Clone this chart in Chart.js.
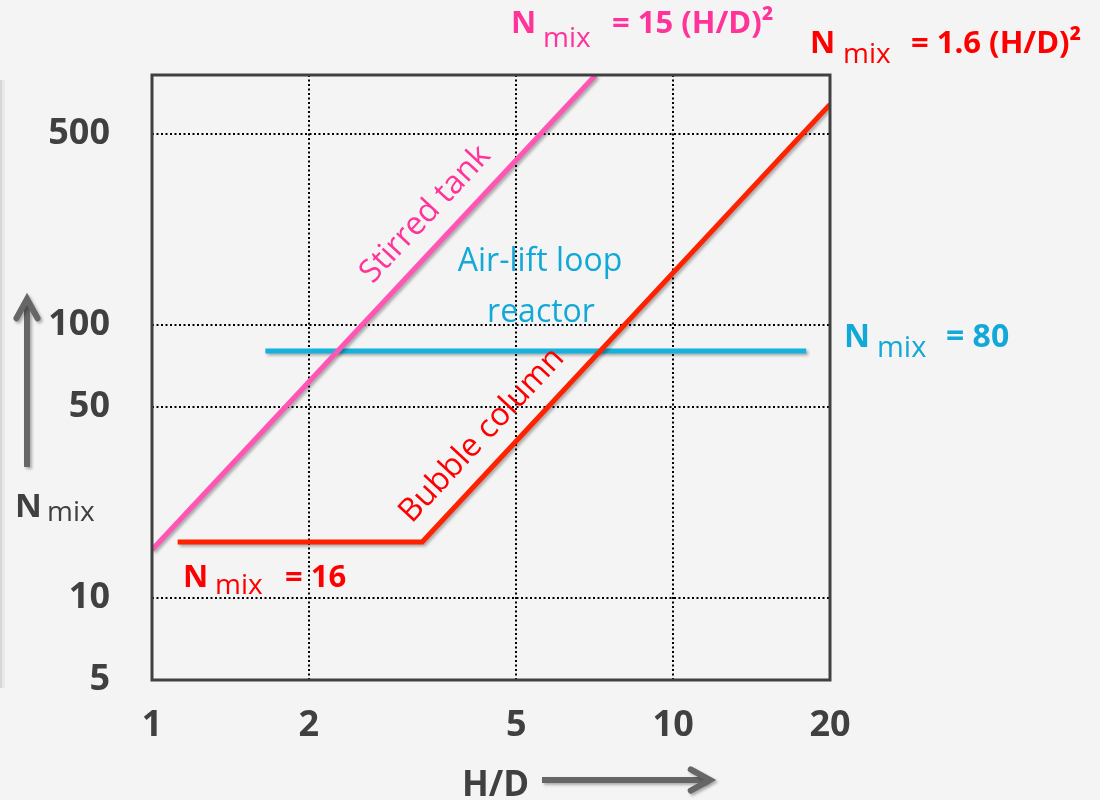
<!DOCTYPE html>
<html>
<head>
<meta charset="utf-8">
<title>Mixing number vs H/D</title>
<script src="https://cdn.jsdelivr.net/npm/chart.js@4.4.1/dist/chart.umd.min.js"></script>
<style>
  html, body { margin: 0; padding: 0; background: #f4f4f4; }
  #wrap { width: 1100px; height: 800px; }
</style>
</head>
<body>
<div id="wrap"><canvas id="mix-chart" width="1100" height="800"></canvas></div>
<script>
// axis ticks (log-log)
const hdTicks = [1, 2, 5, 10, 20];
const nmixTicks = [5, 10, 50, 100, 500];
const hdRange = [1, 20];
const nmixRange = [5, 820];

// reactor lines
const stirredHD = [1, 7.1];
const stirredN = [15, 820];
const bubbleHD = [1.12, 3.3, 20];
const bubbleN = [16, 16, 640];
const airliftHD = [1.65, 18];
const airliftN = [80, 80];

const PINK = '#ff55b4', PINK_TXT = '#ff3399';
const RED = '#ff2200', RED_TXT = '#ff0000';
const CYAN = '#14b2dc', CYAN_TXT = '#12a8d8';
const GREY = '#404040';
const FONT = '"Open Sans"';

const pts = (xs, ys) => xs.map((x, i) => ({ x, y: ys[i] }));

function nmixText(ctx, color, size, n, m, r, rest) {
  ctx.fillStyle = color;
  ctx.textAlign = 'left';
  ctx.textBaseline = 'alphabetic';
  ctx.font = `bold ${size}px ${FONT}`;
  ctx.fillText('N', n[0], n[1]);
  ctx.font = `${size - 3}px ${FONT}`;
  ctx.fillText('mix', m[0], m[1]);
  ctx.font = `bold ${size}px ${FONT}`;
  ctx.fillText(rest, r[0], r[1]);
}

// text that runs parallel to a segment of a drawn line
function labelAlong(ctx, meta, i, t, off, text, color) {
  const a = meta.data[i], b = meta.data[i + 1];
  const dx = b.x - a.x, dy = b.y - a.y, len = Math.hypot(dx, dy);
  const x = a.x + dx * t + (dy / len) * off;
  const y = a.y + dy * t - (dx / len) * off;
  ctx.save();
  ctx.translate(x, y);
  ctx.rotate(Math.atan2(dy, dx));
  ctx.fillStyle = color;
  ctx.font = `32px ${FONT}`;
  ctx.textAlign = 'left';
  ctx.textBaseline = 'alphabetic';
  ctx.fillText(text, 0, 0);
  ctx.restore();
}

function arrow(ctx, x1, y1, x2, y2) {
  const ang = Math.atan2(y2 - y1, x2 - x1), h = 22, w = 0.5;
  ctx.save();
  ctx.strokeStyle = '#666';
  ctx.lineWidth = 6;
  ctx.shadowColor = 'rgba(0,0,0,0.3)';
  ctx.shadowBlur = 3;
  ctx.shadowOffsetX = 2;
  ctx.shadowOffsetY = 2;
  ctx.beginPath();
  ctx.moveTo(x1, y1);
  ctx.lineTo(x2 - Math.cos(ang) * 3, y2 - Math.sin(ang) * 3);
  ctx.stroke();
  ctx.lineCap = 'round';
  ctx.lineJoin = 'miter';
  ctx.beginPath();
  ctx.moveTo(x2 - h * Math.cos(ang - w), y2 - h * Math.sin(ang - w));
  ctx.lineTo(x2, y2);
  ctx.lineTo(x2 - h * Math.cos(ang + w), y2 - h * Math.sin(ang + w));
  ctx.stroke();
  ctx.restore();
}

const decor = {
  id: 'decor',
  beforeDraw(chart) {
    const ctx = chart.ctx;
    ctx.save();
    ctx.fillStyle = '#f4f4f4';
    ctx.fillRect(0, 0, chart.width, chart.height);
    // faint slide edge on the left
    ctx.fillStyle = '#d6d6d6';
    ctx.fillRect(0, 80, 2, 608);
    ctx.fillStyle = '#e8e8e8';
    ctx.fillRect(2, 80, 3, 608);
    ctx.restore();
  },
  beforeDatasetDraw(chart) {
    const ctx = chart.ctx;
    ctx.save();
    ctx.shadowColor = 'rgba(0,0,0,0.3)';
    ctx.shadowBlur = 3;
    ctx.shadowOffsetX = 2;
    ctx.shadowOffsetY = 2;
  },
  afterDatasetDraw(chart) {
    chart.ctx.restore();
  },
  afterDatasetsDraw(chart) {
    const { ctx, chartArea: a } = chart;
    ctx.save();
    ctx.strokeStyle = GREY;
    ctx.lineWidth = 3;
    ctx.strokeRect(a.left, a.top, a.right - a.left, a.bottom - a.top);
    ctx.restore();
  },
  afterDraw(chart) {
    const ctx = chart.ctx;
    ctx.save();

    nmixText(ctx, PINK_TXT, 31, [511, 33], [543, 47], [612, 33], '= 15 (H/D)²');
    nmixText(ctx, RED_TXT, 31, [810, 53], [843, 63], [911, 53], '= 1.6 (H/D)²');
    nmixText(ctx, CYAN_TXT, 32, [844, 347], [877, 357], [946, 347], '= 80');
    nmixText(ctx, RED_TXT, 31, [183, 587], [215, 594], [285, 587], '= 16');

    labelAlong(ctx, chart.getDatasetMeta(0), 0, 0.53, 20, 'Stirred tank', PINK_TXT);
    labelAlong(ctx, chart.getDatasetMeta(1), 1, 0.01, 20, 'Bubble column', RED_TXT);

    ctx.fillStyle = CYAN_TXT;
    ctx.font = `32px ${FONT}`;
    ctx.textAlign = 'center';
    ctx.fillText('Air-lift loop', 540, 271);
    ctx.fillText('reactor', 541, 322);

    // axis titles
    ctx.fillStyle = GREY;
    ctx.textAlign = 'left';
    ctx.font = `bold 35px ${FONT}`;
    ctx.fillText('H/D', 462, 796);
    ctx.font = `bold 33px ${FONT}`;
    ctx.fillText('N', 15, 517);
    ctx.font = `28px ${FONT}`;
    ctx.fillText('mix', 47, 521);
    ctx.restore();

    arrow(ctx, 542, 780, 710, 780);
    arrow(ctx, 27, 467, 27, 299);
  }
};

const tickFont = { family: 'Open Sans', weight: 'bold', size: 36 };

new Chart(document.getElementById('mix-chart'), {
  type: 'scatter',
  data: {
    datasets: [
      { label: 'Stirred tank', data: pts(stirredHD, stirredN), borderColor: PINK },
      { label: 'Bubble column', data: pts(bubbleHD, bubbleN), borderColor: RED },
      { label: 'Air-lift loop reactor', data: pts(airliftHD, airliftN), borderColor: CYAN }
    ].map(d => Object.assign(d, {
      showLine: true, pointRadius: 0, borderWidth: 5, tension: 0,
      borderCapStyle: 'butt', borderJoinStyle: 'miter', fill: false
    }))
  },
  options: {
    responsive: false,
    animation: false,
    layout: { padding: { left: 0, top: 75, right: 270, bottom: 0 } },
    plugins: { legend: { display: false }, tooltip: { enabled: false } },
    scales: {
      x: {
        type: 'logarithmic',
        min: hdRange[0], max: hdRange[1],
        afterBuildTicks: s => { s.ticks = hdTicks.map(v => ({ value: v })); },
        afterFit: s => { s.height = 120; },
        grid: { color: '#000', lineWidth: 2, drawTicks: false },
        border: { display: false, dash: [2, 2.5] },
        ticks: { callback: v => String(v), autoSkip: false, maxRotation: 0, padding: 24, color: GREY, font: tickFont }
      },
      y: {
        type: 'logarithmic',
        min: nmixRange[0], max: nmixRange[1],
        afterBuildTicks: s => { s.ticks = nmixTicks.map(v => ({ value: v })); },
        afterFit: s => { s.width = 152; },
        grid: { color: '#000', lineWidth: 2, drawTicks: false },
        border: { display: false, dash: [2, 2.5] },
        ticks: { callback: v => String(v), autoSkip: false, padding: 42, color: GREY, font: tickFont }
      }
    }
  },
  plugins: [decor]
});
</script>
</body>
</html>
